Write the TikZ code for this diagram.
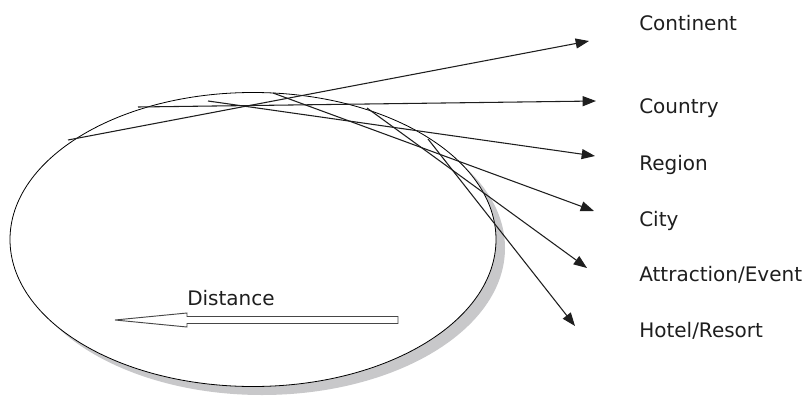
\documentclass[tikz,border=0pt]{standalone}
\usepackage{fontspec}
\setsansfont{DejaVu Sans}
\usepackage{tikz}
\usetikzlibrary{arrows.meta}

\tikzset{
  levelarrow/.style={line width=0.8pt, color={rgb, 255:red, 30; green, 30; blue, 30},
    -{Triangle[length=10pt,width=7.5pt]}},
  levellabel/.style={anchor=base west, inner sep=0pt, font=\sffamily\fontsize{15}{18}\selectfont,
    text={rgb, 255:red, 30; green, 30; blue, 30}}
}

\begin{document}
\begin{tikzpicture}[x=0.75pt,y=0.75pt,yscale=-1,xscale=1]
\useasboundingbox (0,0) rectangle (810,396);

%Shape: Ellipse shadow
\fill [color={rgb, 255:red, 200; green, 200; blue, 202}] (262,248) ellipse (243 and 147);
%Shape: Ellipse
\draw [line width=0.6pt, fill=white] (253,239.5) ellipse (243 and 147);

% start points on the arc
\coordinate (sContinent) at (68,140);
\coordinate (sCountry) at (138,107);
\coordinate (sRegion) at (208,101);
\coordinate (sCity) at (273,93);
\coordinate (sAttraction) at (367,108);
\coordinate (sHotel) at (428,139);

% arrow ends
\coordinate (eContinent) at (589,41);
\coordinate (eCountry) at (596,101);
\coordinate (eRegion) at (595,156);
\coordinate (eCity) at (594,211);
\coordinate (eAttraction) at (587,268);
\coordinate (eHotel) at (575,326);

% Text Node
\node [levellabel] (continent) at (639,31) {Continent};
% Text Node
\node [levellabel] (country) at (639,113) {Country};
% Text Node
\node [levellabel] (region) at (639,170) {Region};
% Text Node
\node [levellabel] (city) at (639,226) {City};
% Text Node
\node [levellabel] (attraction) at (639,281) {Attraction/Event};
% Text Node
\node [levellabel] (hotel) at (639,337) {Hotel/Resort};

%Straight Lines
\draw [levelarrow] (sContinent) -- (eContinent);
\draw [levelarrow] (sCountry) -- (eCountry);
\draw [levelarrow] (sRegion) -- (eRegion);
\draw [levelarrow] (sCity) -- (eCity);
\draw [levelarrow] (sAttraction) -- (eAttraction);
\draw [levelarrow] (sHotel) -- (eHotel);

% Text Node
\node [levellabel] (distance) at (187,305) {Distance};
%Shape: Left Arrow
\draw [line width=0.7pt, color={rgb, 255:red, 70; green, 70; blue, 70}, fill=white]
  (115,320) -- (187,313) -- (187,316.5) -- (398,316.5) -- (398,323.5) -- (187,323.5) -- (187,327) -- cycle;

\end{tikzpicture}
\end{document}
